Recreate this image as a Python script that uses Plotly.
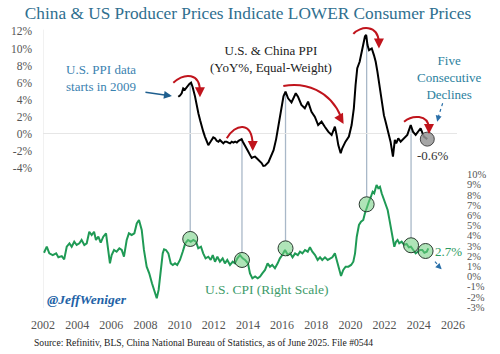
import plotly.graph_objects as go

# ---------------- data (decimal years on the chart's time axis) ----------------
ppi_x = [2009.92, 2010.02, 2010.12, 2010.21, 2010.31, 2010.45, 2010.57, 2010.67, 2010.76, 2010.9,
         2011.0, 2011.1, 2011.2, 2011.29, 2011.38, 2011.48, 2011.58, 2011.68, 2011.78, 2011.88,
         2011.97, 2012.07, 2012.17, 2012.27, 2012.36, 2012.46, 2012.56, 2012.65, 2012.75, 2012.85,
         2012.95, 2013.05, 2013.15, 2013.25, 2013.35, 2013.45, 2013.53, 2013.63, 2013.7, 2013.77,
         2013.85, 2013.93, 2014.0, 2014.08, 2014.15, 2014.22, 2014.31, 2014.41, 2014.5, 2014.6,
         2014.7, 2014.8, 2014.9, 2015.0, 2015.2, 2015.35, 2015.5, 2015.65, 2015.8, 2015.95,
         2016.08, 2016.2, 2016.35, 2016.55, 2016.8, 2016.93, 2017.13, 2017.33, 2017.52, 2017.72,
         2017.92, 2018.11, 2018.31, 2018.5, 2018.7, 2018.9, 2019.09, 2019.19, 2019.29, 2019.43,
         2019.52, 2019.71, 2019.91, 2020.07, 2020.2, 2020.3, 2020.4, 2020.54, 2020.66, 2020.75,
         2020.85, 2020.92, 2021.0, 2021.09, 2021.25, 2021.38, 2021.48, 2021.58, 2021.67, 2021.77,
         2021.87, 2021.96, 2022.06, 2022.2, 2022.35, 2022.49, 2022.6, 2022.68, 2022.8, 2022.94,
         2023.13, 2023.33, 2023.53, 2023.66, 2023.82, 2023.97, 2024.11, 2024.3, 2024.5]
ppi_y = [4.36, 4.5, 4.76, 5.34, 5.2, 5.6, 5.85, 6.0, 5.5, 4.4,
         3.3, 2.4, 1.6, 0.85, 0.3, -0.3, -0.9, -1.3, -1.0, -0.7,
         -0.4, -0.5, -0.8, -0.9, -0.7, -0.9, -1.1, -0.9, -0.9, -1.0,
         -1.1, -0.9, -1.0, -0.9, -1.0, -0.8, -0.7, -0.6, -0.9, -1.2,
         -1.5, -1.7, -2.0, -2.3, -2.6, -2.8, -2.7, -2.65, -2.8, -3.0,
         -3.2, -3.4, -3.74, -3.7, -3.3, -2.6, -1.9, -0.6, 1.2, 3.0,
         4.4, 4.95, 4.17, 3.7, 4.76, 4.36, 3.4, 3.0, 3.78, 2.6,
         2.0, 1.05, 1.44, 0.85, 0.27, -0.12, 0.85, -0.1, -1.3, -2.26,
         -1.67, -0.9, -0.3, 1.05, 3.0, 5.7, 7.7, 8.45, 9.6, 10.8,
         11.4, 11.6, 10.4, 9.8, 10.0, 9.2, 8.45, 7.3, 6.1, 4.56,
         3.4, 2.2, 1.44, 0.27, -0.9, -2.65, -0.7, -1.1, -0.5, -0.9,
         -0.5, -0.1, 1.05, 0.27, -0.1, 0.27, 0.67, -0.3, -0.6]

cpi_x = [2002.06, 2002.22, 2002.37, 2002.57, 2002.77, 2002.9, 2003.1, 2003.24, 2003.39, 2003.55,
         2003.68, 2003.83, 2003.97, 2004.13, 2004.26, 2004.42, 2004.56, 2004.71, 2004.85, 2004.99,
         2005.1, 2005.24, 2005.38, 2005.53, 2005.69, 2005.82, 2005.92, 2006.02, 2006.16, 2006.31,
         2006.47, 2006.61, 2006.74, 2006.9, 2007.03, 2007.19, 2007.35, 2007.49, 2007.62, 2007.78,
         2007.91, 2008.07, 2008.22, 2008.38, 2008.54, 2008.66, 2008.77, 2008.89, 2009.01, 2009.09,
         2009.2, 2009.34, 2009.48, 2009.6, 2009.73, 2009.86, 2010.02, 2010.18, 2010.33, 2010.49,
         2010.65, 2010.8, 2010.96, 2011.09, 2011.25, 2011.38, 2011.52, 2011.68, 2011.82, 2011.94,
         2012.07, 2012.21, 2012.36, 2012.52, 2012.65, 2012.79, 2012.95, 2013.11, 2013.24, 2013.38,
         2013.53, 2013.69, 2013.83, 2014.0, 2014.12, 2014.26, 2014.42, 2014.57, 2014.71, 2014.84,
         2015.0, 2015.15, 2015.29, 2015.42, 2015.58, 2015.74, 2015.87, 2016.01, 2016.17, 2016.34,
         2016.47, 2016.61, 2016.76, 2016.92, 2017.05, 2017.19, 2017.34, 2017.5, 2017.63, 2017.77,
         2017.93, 2018.08, 2018.22, 2018.35, 2018.51, 2018.67, 2018.81, 2018.94, 2019.09, 2019.19,
         2019.33, 2019.45, 2019.58, 2019.72, 2019.88, 2020.04, 2020.17, 2020.27, 2020.37, 2020.5,
         2020.62, 2020.75, 2020.85, 2020.96, 2021.08, 2021.2, 2021.3, 2021.39, 2021.53, 2021.63,
         2021.73, 2021.83, 2021.94, 2022.06, 2022.18, 2022.27, 2022.37, 2022.47, 2022.57, 2022.67,
         2022.76, 2022.86, 2023.0, 2023.15, 2023.29, 2023.42, 2023.54, 2023.68, 2023.82, 2023.94,
         2024.07, 2024.21, 2024.33, 2024.47, 2024.56]
cpi_y = [2.33, 2.92, 2.27, 2.1, 2.27, 1.88, 2.0, 1.68, 2.92, 3.25,
         2.92, 3.41, 3.09, 3.25, 3.58, 3.09, 3.25, 4.39, 4.07, 4.39,
         3.58, 3.9, 3.31, 3.9, 4.23, 2.6, 1.29, 2.1, 2.6, 2.43,
         2.76, 2.6, 1.94, 3.58, 4.23, 4.07, 4.23, 5.2, 5.54, 4.56,
         2.6, 0.96, 0.31, -0.67, -1.49, -2.14, -1.32, 0.31, 2.27, 2.67,
         2.6, 2.27, 1.29, 1.13, 1.29, 1.13, 1.62, 2.43, 3.25, 3.58,
         3.41, 3.58, 3.41, 2.76, 2.92, 2.27, 1.78, 1.94, 1.62, 2.1,
         1.45, 1.94, 1.45, 1.78, 1.29, 1.62, 1.13, 1.45, 1.29, 1.78,
         2.1, 1.78, 1.62, 1.29, 0.31, -0.18, 0.0, -0.18, 0.0, 0.31,
         0.64, 1.29, 0.96, 1.13, 0.8, 1.29, 1.78, 2.1, 2.6, 2.1,
         2.27, 1.88, 2.27, 2.1, 2.43, 2.27, 2.6, 2.43, 2.86, 2.43,
         2.1, 1.62, 1.88, 1.62, 1.88, 1.62, 1.78, 1.88, 2.27, 1.62,
         0.64, 0.05, 0.64, 0.96, 0.96, 1.13, 1.45, 2.27, 3.9, 5.05,
         5.37, 5.54, 6.2, 6.84, 7.33, 7.82, 8.31, 8.16, 8.97, 8.65,
         8.8, 8.16, 7.67, 7.18, 6.52, 5.7, 4.73, 3.75, 2.92, 3.41,
         3.58, 3.25, 3.41, 3.09, 3.19, 2.86, 2.92, 2.6, 2.27, 2.43,
         2.6, 2.6, 2.33, 2.43, 2.76]

# highlighted CPI turning points (circles) and the PPI peaks they link to
circle_x = [2010.62, 2013.65, 2016.2, 2020.95, 2023.55, 2024.4]
circle_cpi = [3.68, 1.62, 2.76, 7.08, 3.06, 2.5]
link_ppi = [5.9, -0.6, 4.95, 11.5, 1.05, None]

x_tickvals = [2002, 2004, 2006, 2008, 2010, 2012, 2014, 2016, 2018, 2020, 2022, 2024, 2026]
left_tickvals = [12, 10, 8, 6, 4, 2, 0, -2, -4]
left_ticktext = ["12%", "10%", "8%", "6%", "4%", "2%", "0%", "-2%", "-4%"]
right_tickvals = [10, 9, 8, 7, 6, 5, 4, 3, 2, 1, 0, -1, -2, -3]
right_ticktext = ["10%", "9%", "8%", "7%", "6%", "5%", "4%", "3%", "2%", "1%", "0%", "-1%", "-2%", "-3%"]

# ---------------- styling ----------------
SERIF = "Liberation Serif, DejaVu Serif, serif"
GREEN = "#1f9a55"
TEAL = "#2f6f8f"
RED = "#c0141c"

X_RANGE = [2002, 2026.24]
Y1_RANGE = [-20.35, 13.33]
Y2_RANGE = [-3.09, 25.15]


def y2_to_y1(v):
    f = (v - Y2_RANGE[0]) / (Y2_RANGE[1] - Y2_RANGE[0])
    return Y1_RANGE[0] + f * (Y1_RANGE[1] - Y1_RANGE[0])


fig = go.Figure()

fig.add_trace(go.Scatter(x=cpi_x, y=cpi_y, yaxis="y2", mode="lines",
                         line=dict(color=GREEN, width=2), hoverinfo="skip"))
fig.add_trace(go.Scatter(x=ppi_x, y=ppi_y, yaxis="y", mode="lines",
                         line=dict(color="black", width=2), hoverinfo="skip"))
fig.add_trace(go.Scatter(x=circle_x, y=circle_cpi, yaxis="y2", mode="markers",
                         marker=dict(size=15, color="rgba(110,205,125,0.55)",
                                     line=dict(color="#2b3a30", width=1)),
                         hoverinfo="skip"))
fig.add_trace(go.Scatter(x=[ppi_x[-1]], y=[ppi_y[-1]], yaxis="y", mode="markers",
                         marker=dict(size=14, color="rgba(150,150,150,0.85)",
                                     line=dict(color="#444", width=1)),
                         hoverinfo="skip"))

shapes = []
# left axis line
shapes.append(dict(type="line", xref="x", yref="y", x0=2002, x1=2002, y0=Y1_RANGE[0], y1=12.2,
                   line=dict(color="#e3e3e3", width=1), layer="below"))
# connectors
circle_r_y1 = 7.5 / 8.55
for cx, cv, pv in zip(circle_x, circle_cpi, link_ppi):
    if pv is None:
        continue
    shapes.append(dict(type="line", xref="x", yref="y", x0=cx, x1=cx, y0=pv,
                       y1=y2_to_y1(cv) + circle_r_y1,
                       line=dict(color="#a9b8c8", width=1.3), layer="below"))

# red curved arrows: cubic control points (x, PPI%) and arrow tip
red_arrows = [
    ([(2009.63, 6.0), (2010.3, 7.17), (2011.19, 7.17), (2011.19, 4.95)], (2011.19, 4.3), (0, -7)),
    ([(2012.76, -0.5), (2013.24, 1.17), (2014.24, 1.64), (2014.28, -1.3)], (2014.28, -2.0), (0, -7)),
    ([(2016.07, 5.61), (2017.34, 6.08), (2018.8, 5.15), (2019.45, 2.0)], (2019.6, 1.17), (-4, -7)),
    ([(2020.17, 11.7), (2020.56, 12.63), (2021.61, 12.87), (2021.67, 10.7)], (2021.67, 10.0), (0, -7)),
    ([(2023.14, 1.44), (2023.6, 2.22), (2024.54, 2.34), (2024.6, 0.7)], (2024.6, 0.0), (0, -7)),
]
annotations = []
for pts, tip, (ax, ay) in red_arrows:
    p = "M {},{} C {},{} {},{} {},{}".format(*[c for pt in pts for c in pt])
    shapes.append(dict(type="path", xref="x", yref="y", path=p,
                       line=dict(color=RED, width=2)))
    annotations.append(dict(x=tip[0], y=tip[1], xref="x", yref="y", ax=ax, ay=ay, text="",
                            showarrow=True, arrowhead=2, arrowsize=1, arrowwidth=2,
                            arrowcolor=RED, standoff=0))

# dotted pointer lines
shapes.append(dict(type="line", xref="x", yref="y", x0=2025.4, y0=3.59, x1=2025.1, y1=1.7,
                   line=dict(color="#2a6fa8", width=1.2, dash="dot")))
annotations.append(dict(x=2025.08, y=1.44, xref="x", yref="y", ax=1, ay=-4, text="",
                        showarrow=True, arrowhead=2, arrowsize=1, arrowwidth=1.2,
                        arrowcolor="#2a6fa8", standoff=0))
shapes.append(dict(type="line", xref="x", yref="y2", x0=2024.95, y0=1.45, x1=2025.3, y1=0.8,
                   line=dict(color="#2a6fa8", width=1.2, dash="dot")))
annotations.append(dict(x=2025.34, y=0.71, xref="x", yref="y2", ax=-3, ay=-3, text="",
                        showarrow=True, arrowhead=2, arrowsize=1, arrowwidth=1.2,
                        arrowcolor="#2a6fa8", standoff=0))

# blue arrow from PPI note
annotations.append(dict(x=2009.55, y=4.44, xref="x", yref="y", ax=-28, ay=-4, text="",
                        showarrow=True, arrowhead=2, arrowsize=1, arrowwidth=1.6,
                        arrowcolor="#1f5f8f", standoff=0))

# texts
annotations += [
    dict(x=2005.4, y=6.55, xref="x", yref="y", text="U.S. PPI data<br>starts in 2009",
         showarrow=False, font=dict(family=SERIF, size=13, color="#3a82b0")),
    dict(x=2015.35, y=8.75, xref="x", yref="y", text="U.S. & China PPI<br>(YoY%, Equal-Weight)",
         showarrow=False, font=dict(family=SERIF, size=13, color="#222")),
    dict(x=2025.77, y=6.63, xref="x", yref="y", text="Five<br>Consecutive<br>Declines",
         showarrow=False, font=dict(family=SERIF, size=13, color="#2b7f9e")),
    dict(x=2024.85, y=-2.46, xref="x", yref="y", text="-0.6%",
         showarrow=False, font=dict(family=SERIF, size=13, color="#333")),
    dict(x=2025.73, y=2.43, xref="x", yref="y2", text="2.7%",
         showarrow=False, font=dict(family=SERIF, size=13, color="#2e9a62")),
    dict(x=2015.06, y=-1.32, xref="x", yref="y2", text="U.S. CPI (Right Scale)",
         showarrow=False, font=dict(family=SERIF, size=13.5, color="#3d9b6a")),
    dict(x=2002.1, y=-2.3, xref="x", yref="y2", xanchor="left", text="<b><i>@JeffWeniger</i></b>",
         showarrow=False, font=dict(family=SERIF, size=13.5, color="#2262a6")),
    dict(x=-0.027, y=-0.12, xref="paper", yref="paper", xanchor="left", yanchor="middle",
         text="Source: Refinitiv, BLS, China National Bureau of Statistics, as of June 2025. File #0544",
         showarrow=False, font=dict(family=SERIF, size=9.6, color="#222")),
]

fig.update_layout(
    width=500, height=354,
    margin=dict(l=43, r=43, t=20, b=46),
    paper_bgcolor="white", plot_bgcolor="white",
    showlegend=False,
    title=dict(text="China & US Producer Prices Indicate LOWER Consumer Prices",
               x=0.496, xanchor="center", y=0.963, yanchor="middle", xref="container",
               font=dict(family=SERIF, size=17.3, color=TEAL)),
    xaxis=dict(range=X_RANGE, tickvals=x_tickvals, showgrid=False, zeroline=False,
               showline=False, ticks="", ticklabelstandoff=8,
               tickfont=dict(family=SERIF, size=12, color="#555")),
    yaxis=dict(range=Y1_RANGE, tickvals=left_tickvals, ticktext=left_ticktext,
               showgrid=False, zeroline=True, zerolinecolor="#e6e6e6", zerolinewidth=1,
               showline=False, ticks="", ticklabelstandoff=10,
               tickfont=dict(family=SERIF, size=11.5, color="#555")),
    yaxis2=dict(range=Y2_RANGE, tickvals=right_tickvals, ticktext=right_ticktext,
                overlaying="y", side="right", showgrid=False, zeroline=False,
                showline=False, ticks="", ticklabelstandoff=9,
                tickfont=dict(family=SERIF, size=10.5, color="#555")),
    shapes=shapes,
    annotations=annotations,
)

fig.write_html("out.html")
